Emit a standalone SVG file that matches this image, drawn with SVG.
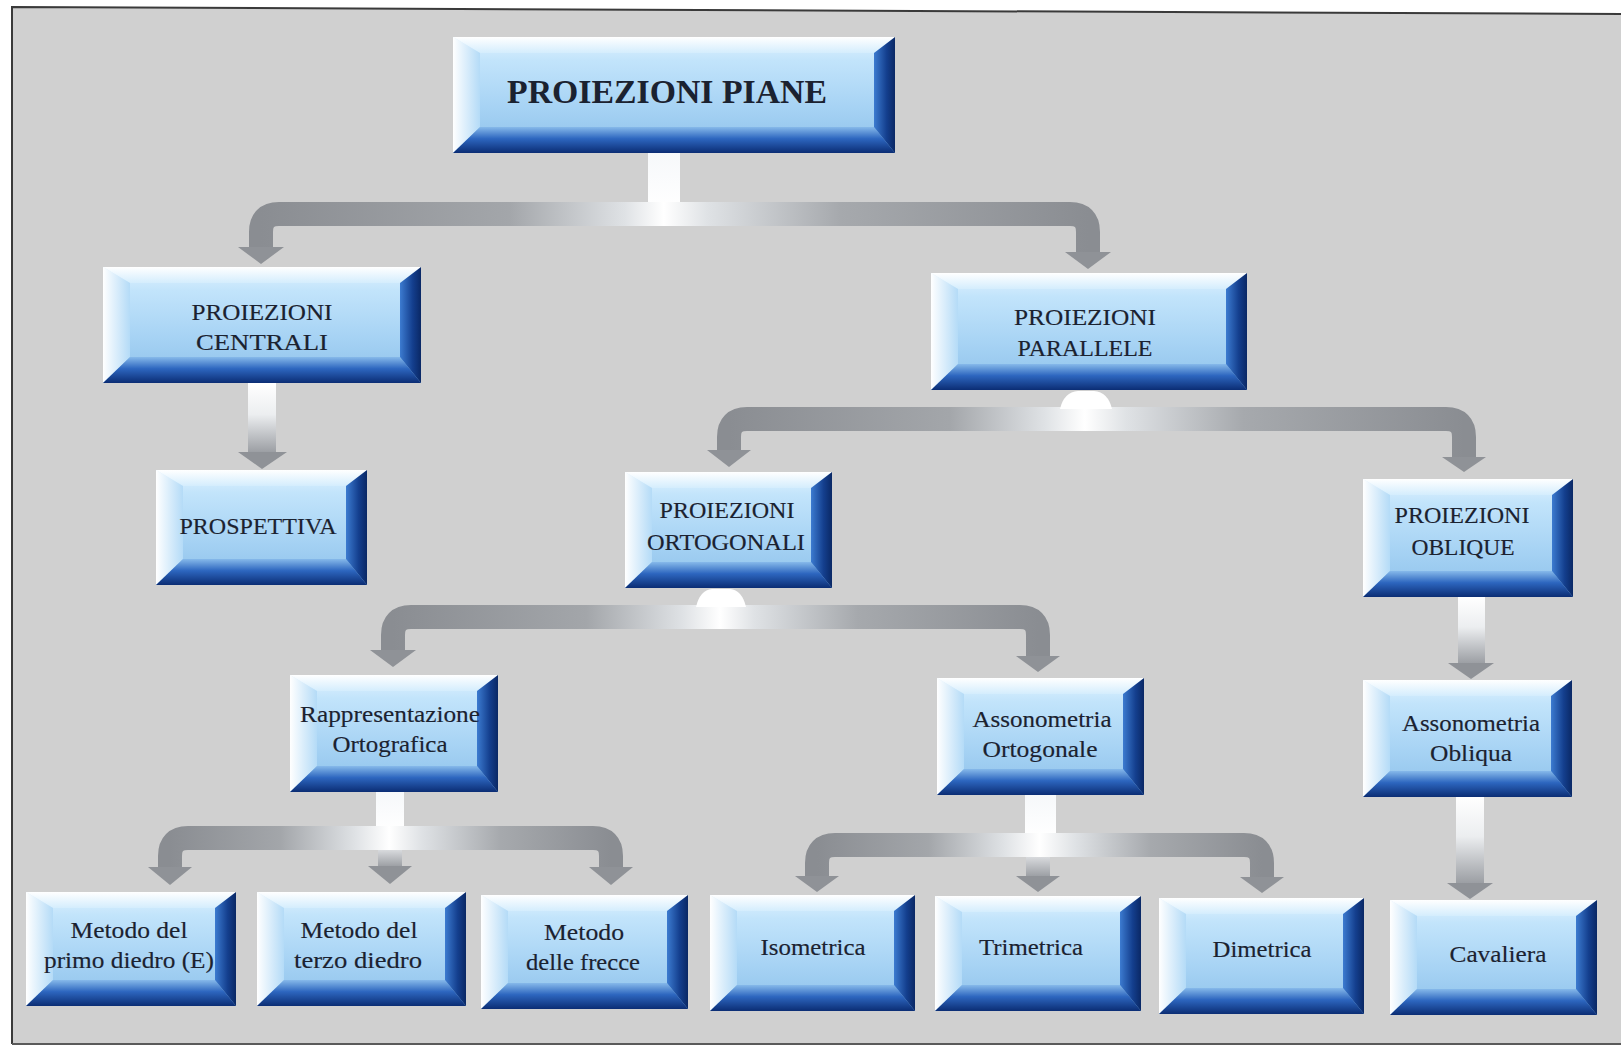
<svg xmlns="http://www.w3.org/2000/svg" width="1623" height="1052" viewBox="0 0 1623 1052">
<defs>
<linearGradient id="gFace" x1="0" y1="0" x2="0" y2="1"><stop offset="0" stop-color="#e2f3ff"/><stop offset="0.2" stop-color="#c2e4fb"/><stop offset="0.6" stop-color="#a7d3f4"/><stop offset="1" stop-color="#8cc0ea"/></linearGradient>
<linearGradient id="gTop" x1="0" y1="0" x2="0" y2="1"><stop offset="0" stop-color="#ffffff"/><stop offset="1" stop-color="#d4edfd"/></linearGradient>
<linearGradient id="gLeft" x1="0" y1="0" x2="1" y2="0"><stop offset="0" stop-color="#ffffff"/><stop offset="1" stop-color="#b4dbf7"/></linearGradient>
<linearGradient id="gBottom" x1="0" y1="0" x2="0" y2="1"><stop offset="0" stop-color="#86b9ea"/><stop offset="0.45" stop-color="#2d66bf"/><stop offset="1" stop-color="#0b2d74"/></linearGradient>
<linearGradient id="gRight" x1="0" y1="0" x2="1" y2="0"><stop offset="0" stop-color="#3c7bd0"/><stop offset="0.6" stop-color="#143f8e"/><stop offset="1" stop-color="#0a2865"/></linearGradient>
<linearGradient id="gShaft" x1="0" y1="0" x2="0" y2="1"><stop offset="0" stop-color="#ffffff"/><stop offset="0.45" stop-color="#eceef0"/><stop offset="1" stop-color="#9a9da2"/></linearGradient>
<linearGradient id="gMid" x1="0" y1="0" x2="0" y2="1"><stop offset="0" stop-color="#d8dadd"/><stop offset="1" stop-color="#9a9da2"/></linearGradient>
<linearGradient id="gStem" x1="0" y1="0" x2="0" y2="1"><stop offset="0" stop-color="#f6f8fa"/><stop offset="1" stop-color="#ffffff"/></linearGradient>
<linearGradient id="gC1" gradientUnits="userSpaceOnUse" x1="261" y1="0" x2="1088" y2="0"><stop offset="0" stop-color="#8a8d92"/><stop offset="0.3" stop-color="#a3a6aa"/><stop offset="0.44" stop-color="#dfe2e5"/><stop offset="0.487" stop-color="#ffffff"/><stop offset="0.54" stop-color="#dfe2e5"/><stop offset="0.7" stop-color="#a6a9ad"/><stop offset="1" stop-color="#8a8d92"/></linearGradient>
<linearGradient id="gC3" gradientUnits="userSpaceOnUse" x1="729" y1="0" x2="1464" y2="0"><stop offset="0" stop-color="#8a8d92"/><stop offset="0.3" stop-color="#a3a6aa"/><stop offset="0.43" stop-color="#dfe2e5"/><stop offset="0.484" stop-color="#ffffff"/><stop offset="0.54" stop-color="#dfe2e5"/><stop offset="0.7" stop-color="#a6a9ad"/><stop offset="1" stop-color="#8a8d92"/></linearGradient>
<linearGradient id="gC4" gradientUnits="userSpaceOnUse" x1="393" y1="0" x2="1038" y2="0"><stop offset="0" stop-color="#8a8d92"/><stop offset="0.3" stop-color="#a3a6aa"/><stop offset="0.45" stop-color="#dfe2e5"/><stop offset="0.507" stop-color="#ffffff"/><stop offset="0.56" stop-color="#dfe2e5"/><stop offset="0.72" stop-color="#a6a9ad"/><stop offset="1" stop-color="#8a8d92"/></linearGradient>
<linearGradient id="gC5" gradientUnits="userSpaceOnUse" x1="170" y1="0" x2="611" y2="0"><stop offset="0" stop-color="#8a8d92"/><stop offset="0.25" stop-color="#a3a6aa"/><stop offset="0.42" stop-color="#dfe2e5"/><stop offset="0.497" stop-color="#ffffff"/><stop offset="0.57" stop-color="#dfe2e5"/><stop offset="0.75" stop-color="#a6a9ad"/><stop offset="1" stop-color="#8a8d92"/></linearGradient>
<linearGradient id="gC6" gradientUnits="userSpaceOnUse" x1="817" y1="0" x2="1262" y2="0"><stop offset="0" stop-color="#8a8d92"/><stop offset="0.25" stop-color="#a3a6aa"/><stop offset="0.42" stop-color="#dfe2e5"/><stop offset="0.5" stop-color="#ffffff"/><stop offset="0.58" stop-color="#dfe2e5"/><stop offset="0.75" stop-color="#a6a9ad"/><stop offset="1" stop-color="#8a8d92"/></linearGradient>
</defs>
<style>
.face{fill:url(#gFace)}
.bt{fill:url(#gTop)}
.bl{fill:url(#gLeft)}
.bb{fill:url(#gBottom)}
.br{fill:url(#gRight)}
.lbl{font-family:"Liberation Serif","Times New Roman",serif;font-size:23px;fill:#1b2230;text-anchor:middle;stroke:#1b2230;stroke-width:0.15}
.title{font-size:34px;font-weight:bold;stroke-width:0}
.bar{fill:none;stroke-width:24;stroke-linecap:butt}
.head{fill:#8f9297}
.shaft{fill:url(#gShaft)}
.mid{fill:url(#gMid)}
.stem{fill:url(#gStem)}
</style>
<rect x="0" y="0" width="1623" height="1052" fill="#ffffff"/>
<polygon points="12,7 1621,14 1621,1044 12,1044" fill="#d0d0d0"/>
<polyline points="12,1044 12,7 1621,14" fill="none" stroke="#3a3a3a" stroke-width="2"/>
<line x1="12" y1="1044" x2="1621" y2="1044" stroke="#5a5a5a" stroke-width="2"/>

<g id="connectors">
  <rect class="stem" x="648" y="150" width="32" height="60"/>
  <path class="bar" stroke="url(#gC1)" d="M261,248 V232 Q261,214 279,214 H1070 Q1088,214 1088,232 V253"/>
  <polygon class="head" points="238,247 284,247 261,264"/>
  <polygon class="head" points="1065,252 1111,252 1088,269"/>

  <rect class="shaft" x="248" y="383" width="28" height="70"/>
  <polygon class="head" points="238,452 287,452 262,469"/>

  <path class="bar" stroke="url(#gC3)" d="M729,452 V437 Q729,419 747,419 H1446 Q1464,419 1464,437 V458"/>
  <path fill="#ffffff" d="M1060,409 Q1064,392 1078,391 H1094 Q1108,392 1112,409 Z"/>
  <polygon class="head" points="707,450 751,450 729,467"/>
  <polygon class="head" points="1442,457 1486,457 1464,472"/>

  <path class="bar" stroke="url(#gC4)" d="M393,651 V635 Q393,617 411,617 H1020 Q1038,617 1038,635 V657"/>
  <path fill="#ffffff" d="M696,607 Q700,590 712,589 H730 Q742,590 746,607 Z"/>
  <polygon class="head" points="370,650 416,650 393,667"/>
  <polygon class="head" points="1016,656 1060,656 1038,672"/>

  <rect class="stem" x="376" y="792" width="28" height="40"/>
  <path class="bar" stroke="url(#gC5)" d="M170,868 V856 Q170,838 188,838 H593 Q611,838 611,856 V868"/>
  <rect class="mid" x="378" y="850" width="24" height="17"/>
  <polygon class="head" points="148,867 192,867 170,885"/>
  <polygon class="head" points="368,866 412,866 390,884"/>
  <polygon class="head" points="589,867 633,867 611,885"/>

  <rect class="stem" x="1025" y="795" width="31" height="42"/>
  <path class="bar" stroke="url(#gC6)" d="M817,877 V863 Q817,845 835,845 H1244 Q1262,845 1262,863 V878"/>
  <rect class="mid" x="1026" y="857" width="24" height="20"/>
  <polygon class="head" points="795,876 839,876 817,892"/>
  <polygon class="head" points="1016,876 1060,876 1038,892"/>
  <polygon class="head" points="1240,877 1284,877 1262,893"/>

  <rect class="shaft" x="1458" y="597" width="27" height="67"/>
  <polygon class="head" points="1448,663 1494,663 1471,679"/>

  <rect class="shaft" x="1456" y="797" width="28" height="87"/>
  <polygon class="head" points="1447,883 1493,883 1470,899"/>
</g>

<g id="n-piane">
  <rect class="face" x="453" y="37" width="442" height="116"/>
  <polygon class="bt" points="453,37 895,37 874,53 480,53"/>
  <polygon class="bl" points="453,37 480,53 480,127 453,153"/>
  <polygon class="bb" points="453,153 480,127 874,127 895,153"/>
  <polygon class="br" points="895,37 874,53 874,127 895,153"/>
  <text class="lbl title" x="667" y="103" textLength="320" lengthAdjust="spacingAndGlyphs">PROIEZIONI PIANE</text>
</g>

<g id="n-centrali">
  <rect class="face" x="103" y="267" width="318" height="116"/>
  <polygon class="bt" points="103,267 421,267 400,283 130,283"/>
  <polygon class="bl" points="103,267 130,283 130,357 103,383"/>
  <polygon class="bb" points="103,383 130,357 400,357 421,383"/>
  <polygon class="br" points="421,267 400,283 400,357 421,383"/>
  <text class="lbl" x="262" y="320" textLength="141" lengthAdjust="spacingAndGlyphs">PROIEZIONI</text>
  <text class="lbl" x="262" y="350" textLength="132" lengthAdjust="spacingAndGlyphs">CENTRALI</text>
</g>

<g id="n-parallele">
  <rect class="face" x="931" y="273" width="316" height="117"/>
  <polygon class="bt" points="931,273 1247,273 1226,289 958,289"/>
  <polygon class="bl" points="931,273 958,289 958,364 931,390"/>
  <polygon class="bb" points="931,390 958,364 1226,364 1247,390"/>
  <polygon class="br" points="1247,273 1226,289 1226,364 1247,390"/>
  <text class="lbl" x="1085" y="325" textLength="142" lengthAdjust="spacingAndGlyphs">PROIEZIONI</text>
  <text class="lbl" x="1085" y="356" textLength="135" lengthAdjust="spacingAndGlyphs">PARALLELE</text>
</g>

<g id="n-prospettiva">
  <rect class="face" x="156" y="470" width="211" height="115"/>
  <polygon class="bt" points="156,470 367,470 346,486 183,486"/>
  <polygon class="bl" points="156,470 183,486 183,559 156,585"/>
  <polygon class="bb" points="156,585 183,559 346,559 367,585"/>
  <polygon class="br" points="367,470 346,486 346,559 367,585"/>
  <text class="lbl" x="258" y="534" textLength="157" lengthAdjust="spacingAndGlyphs">PROSPETTIVA</text>
</g>

<g id="n-ortogonali">
  <rect class="face" x="625" y="472" width="207" height="116"/>
  <polygon class="bt" points="625,472 832,472 811,488 652,488"/>
  <polygon class="bl" points="625,472 652,488 652,562 625,588"/>
  <polygon class="bb" points="625,588 652,562 811,562 832,588"/>
  <polygon class="br" points="832,472 811,488 811,562 832,588"/>
  <text class="lbl" x="727" y="518" textLength="135" lengthAdjust="spacingAndGlyphs">PROIEZIONI</text>
  <text class="lbl" x="726" y="550" textLength="158" lengthAdjust="spacingAndGlyphs">ORTOGONALI</text>
</g>

<g id="n-oblique">
  <rect class="face" x="1363" y="479" width="210" height="118"/>
  <polygon class="bt" points="1363,479 1573,479 1552,495 1390,495"/>
  <polygon class="bl" points="1363,479 1390,495 1390,571 1363,597"/>
  <polygon class="bb" points="1363,597 1390,571 1552,571 1573,597"/>
  <polygon class="br" points="1573,479 1552,495 1552,571 1573,597"/>
  <text class="lbl" x="1462" y="523" textLength="135" lengthAdjust="spacingAndGlyphs">PROIEZIONI</text>
  <text class="lbl" x="1463" y="555" textLength="103" lengthAdjust="spacingAndGlyphs">OBLIQUE</text>
</g>

<g id="n-rappresentazione">
  <rect class="face" x="290" y="675" width="208" height="117"/>
  <polygon class="bt" points="290,675 498,675 477,691 317,691"/>
  <polygon class="bl" points="290,675 317,691 317,766 290,792"/>
  <polygon class="bb" points="290,792 317,766 477,766 498,792"/>
  <polygon class="br" points="498,675 477,691 477,766 498,792"/>
  <text class="lbl" x="390" y="722" textLength="180" lengthAdjust="spacingAndGlyphs">Rappresentazione</text>
  <text class="lbl" x="390" y="752" textLength="115" lengthAdjust="spacingAndGlyphs">Ortografica</text>
</g>

<g id="n-asso-ortogonale">
  <rect class="face" x="937" y="678" width="207" height="117"/>
  <polygon class="bt" points="937,678 1144,678 1123,694 964,694"/>
  <polygon class="bl" points="937,678 964,694 964,769 937,795"/>
  <polygon class="bb" points="937,795 964,769 1123,769 1144,795"/>
  <polygon class="br" points="1144,678 1123,694 1123,769 1144,795"/>
  <text class="lbl" x="1042" y="727" textLength="139" lengthAdjust="spacingAndGlyphs">Assonometria</text>
  <text class="lbl" x="1040" y="757" textLength="115" lengthAdjust="spacingAndGlyphs">Ortogonale</text>
</g>

<g id="n-asso-obliqua">
  <rect class="face" x="1363" y="680" width="209" height="117"/>
  <polygon class="bt" points="1363,680 1572,680 1551,696 1390,696"/>
  <polygon class="bl" points="1363,680 1390,696 1390,771 1363,797"/>
  <polygon class="bb" points="1363,797 1390,771 1551,771 1572,797"/>
  <polygon class="br" points="1572,680 1551,696 1551,771 1572,797"/>
  <text class="lbl" x="1471" y="731" textLength="138" lengthAdjust="spacingAndGlyphs">Assonometria</text>
  <text class="lbl" x="1471" y="761" textLength="82" lengthAdjust="spacingAndGlyphs">Obliqua</text>
</g>

<g id="n-primo-diedro">
  <rect class="face" x="26" y="892" width="210" height="114"/>
  <polygon class="bt" points="26,892 236,892 215,908 53,908"/>
  <polygon class="bl" points="26,892 53,908 53,980 26,1006"/>
  <polygon class="bb" points="26,1006 53,980 215,980 236,1006"/>
  <polygon class="br" points="236,892 215,908 215,980 236,1006"/>
  <text class="lbl" x="129" y="938" textLength="117" lengthAdjust="spacingAndGlyphs">Metodo del</text>
  <text class="lbl" x="129" y="968" textLength="170" lengthAdjust="spacingAndGlyphs">primo diedro (E)</text>
</g>

<g id="n-terzo-diedro">
  <rect class="face" x="257" y="892" width="209" height="114"/>
  <polygon class="bt" points="257,892 466,892 445,908 284,908"/>
  <polygon class="bl" points="257,892 284,908 284,980 257,1006"/>
  <polygon class="bb" points="257,1006 284,980 445,980 466,1006"/>
  <polygon class="br" points="466,892 445,908 445,980 466,1006"/>
  <text class="lbl" x="359" y="938" textLength="117" lengthAdjust="spacingAndGlyphs">Metodo del</text>
  <text class="lbl" x="358" y="968" textLength="128" lengthAdjust="spacingAndGlyphs">terzo diedro</text>
</g>

<g id="n-frecce">
  <rect class="face" x="481" y="895" width="207" height="114"/>
  <polygon class="bt" points="481,895 688,895 667,911 508,911"/>
  <polygon class="bl" points="481,895 508,911 508,983 481,1009"/>
  <polygon class="bb" points="481,1009 508,983 667,983 688,1009"/>
  <polygon class="br" points="688,895 667,911 667,983 688,1009"/>
  <text class="lbl" x="584" y="940" textLength="80" lengthAdjust="spacingAndGlyphs">Metodo</text>
  <text class="lbl" x="583" y="970" textLength="114" lengthAdjust="spacingAndGlyphs">delle frecce</text>
</g>

<g id="n-isometrica">
  <rect class="face" x="710" y="895" width="205" height="116"/>
  <polygon class="bt" points="710,895 915,895 894,911 737,911"/>
  <polygon class="bl" points="710,895 737,911 737,985 710,1011"/>
  <polygon class="bb" points="710,1011 737,985 894,985 915,1011"/>
  <polygon class="br" points="915,895 894,911 894,985 915,1011"/>
  <text class="lbl" x="813" y="955" textLength="105" lengthAdjust="spacingAndGlyphs">Isometrica</text>
</g>

<g id="n-trimetrica">
  <rect class="face" x="935" y="896" width="206" height="115"/>
  <polygon class="bt" points="935,896 1141,896 1120,912 962,912"/>
  <polygon class="bl" points="935,896 962,912 962,985 935,1011"/>
  <polygon class="bb" points="935,1011 962,985 1120,985 1141,1011"/>
  <polygon class="br" points="1141,896 1120,912 1120,985 1141,1011"/>
  <text class="lbl" x="1031" y="955" textLength="104" lengthAdjust="spacingAndGlyphs">Trimetrica</text>
</g>

<g id="n-dimetrica">
  <rect class="face" x="1159" y="898" width="205" height="116"/>
  <polygon class="bt" points="1159,898 1364,898 1343,914 1186,914"/>
  <polygon class="bl" points="1159,898 1186,914 1186,988 1159,1014"/>
  <polygon class="bb" points="1159,1014 1186,988 1343,988 1364,1014"/>
  <polygon class="br" points="1364,898 1343,914 1343,988 1364,1014"/>
  <text class="lbl" x="1262" y="957" textLength="99" lengthAdjust="spacingAndGlyphs">Dimetrica</text>
</g>

<g id="n-cavaliera">
  <rect class="face" x="1390" y="900" width="207" height="115"/>
  <polygon class="bt" points="1390,900 1597,900 1576,916 1417,916"/>
  <polygon class="bl" points="1390,900 1417,916 1417,989 1390,1015"/>
  <polygon class="bb" points="1390,1015 1417,989 1576,989 1597,1015"/>
  <polygon class="br" points="1597,900 1576,916 1576,989 1597,1015"/>
  <text class="lbl" x="1498" y="962" textLength="97" lengthAdjust="spacingAndGlyphs">Cavaliera</text>
</g>
</svg>
